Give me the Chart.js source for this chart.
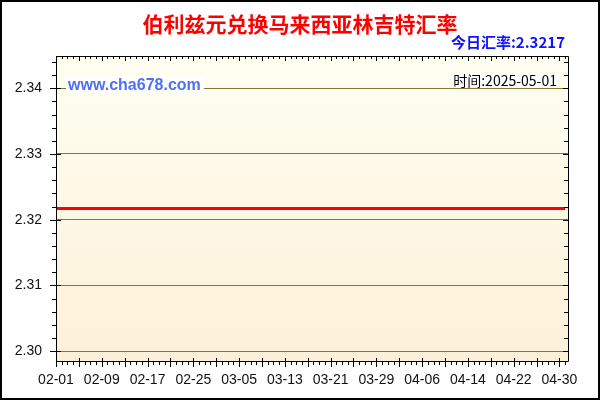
<!DOCTYPE html>
<html>
<head>
<meta charset="utf-8">
<script src="https://cdn.jsdelivr.net/npm/chart.js@4.4.1/dist/chart.umd.min.js"></script>
<style>
  html, body { margin: 0; padding: 0; background: #fff; }
  #wrap { width: 600px; height: 400px; }
</style>
</head>
<body>
<div id="wrap"><canvas id="rateChart" width="600" height="400"></canvas></div>
<script>
// заголовки и подписи
const chartTitle = "伯利兹元兑换马来西亚林吉特汇率";
const todayText = "今日汇率:2.3217";
const siteText = "www.cha678.com";
const dateText = "时间:2025-05-01";

// дни по оси X (02-01 .. 05-01)
const dayLabels = [
  "02-01","02-02","02-03","02-04","02-05","02-06","02-07","02-08","02-09","02-10",
  "02-11","02-12","02-13","02-14","02-15","02-16","02-17","02-18","02-19","02-20",
  "02-21","02-22","02-23","02-24","02-25","02-26","02-27","02-28",
  "03-01","03-02","03-03","03-04","03-05","03-06","03-07","03-08","03-09","03-10",
  "03-11","03-12","03-13","03-14","03-15","03-16","03-17","03-18","03-19","03-20",
  "03-21","03-22","03-23","03-24","03-25","03-26","03-27","03-28","03-29","03-30","03-31",
  "04-01","04-02","04-03","04-04","04-05","04-06","04-07","04-08","04-09","04-10",
  "04-11","04-12","04-13","04-14","04-15","04-16","04-17","04-18","04-19","04-20",
  "04-21","04-22","04-23","04-24","04-25","04-26","04-27","04-28","04-29","04-30",
  "05-01"
];

// курс по дням
const rates = [
  2.3217,2.3217,2.3217,2.3217,2.3217,2.3217,2.3217,2.3217,2.3217,2.3217,
  2.3217,2.3217,2.3217,2.3217,2.3217,2.3217,2.3217,2.3217,2.3217,2.3217,
  2.3217,2.3217,2.3217,2.3217,2.3217,2.3217,2.3217,2.3217,
  2.3217,2.3217,2.3217,2.3217,2.3217,2.3217,2.3217,2.3217,2.3217,2.3217,
  2.3217,2.3217,2.3217,2.3217,2.3217,2.3217,2.3217,2.3217,2.3217,2.3217,
  2.3217,2.3217,2.3217,2.3217,2.3217,2.3217,2.3217,2.3217,2.3217,2.3217,2.3217,
  2.3217,2.3217,2.3217,2.3217,2.3217,2.3217,2.3217,2.3217,2.3217,2.3217,
  2.3217,2.3217,2.3217,2.3217,2.3217,2.3217,2.3217,2.3217,2.3217,2.3217,
  2.3217,2.3217,2.3217,2.3217,2.3217,2.3217,2.3217,2.3217,2.3217,2.3217,
  2.3217
];

// подписи осей
const xTickDays = [0, 8, 16, 24, 32, 40, 48, 56, 64, 72, 80, 88];
const yTickValues = [2.30, 2.31, 2.32, 2.33, 2.34];
const yMin = 2.2985;
const yMax = 2.3449;

const points = rates.map((v, i) => ({ x: i, y: v }));

const gridColor = '#8a7436';

// фон, рамка, засечки и надписи
const decorPlugin = {
  id: 'decor',
  beforeDraw(chart) {
    const ctx = chart.ctx;
    const a = chart.chartArea;
    ctx.save();
    ctx.fillStyle = '#ffffff';
    ctx.fillRect(0, 0, chart.width, chart.height);
    let grad = ctx.createLinearGradient(0, a.top, 0, a.bottom);
    grad.addColorStop(0, '#fffff2');
    grad.addColorStop(1, '#fdf0d8');
    ctx.fillStyle = grad;
    ctx.fillRect(a.left, a.top, a.right - a.left, a.bottom - a.top);
    ctx.restore();
  },
  beforeDatasetsDraw(chart) {
    const ctx = chart.ctx;
    ctx.save();
    // www.cha678.com
    ctx.font = "bold 16px 'Liberation Sans', Arial, sans-serif";
    ctx.textBaseline = 'middle';
    ctx.textAlign = 'left';
    let w = ctx.measureText(siteText).width;
    ctx.fillStyle = '#ffffff';
    ctx.fillRect(66, 77, w + 5, 17);
    ctx.fillStyle = '#4f70f0';
    ctx.fillText(siteText, 68, 85.5);
    // время
    ctx.font = "14px 'Noto Sans CJK SC', sans-serif";
    w = ctx.measureText(dateText).width;
    ctx.fillStyle = '#ffffff';
    ctx.fillRect(557 - w - 3, 73, w + 4, 14);
    ctx.fillStyle = '#000000';
    ctx.textAlign = 'right';
    ctx.fillText(dateText, 557, 81);
    ctx.restore();
  },
  afterDraw(chart) {
    const ctx = chart.ctx;
    const a = chart.chartArea;
    const xs = chart.scales.x;
    const ys = chart.scales.y;
    ctx.save();
    ctx.strokeStyle = '#000000';
    ctx.lineWidth = 1;
    ctx.beginPath();
    // рамка области графика
    ctx.rect(Math.round(a.left) + 0.5, Math.round(a.top) + 0.5,
             Math.round(a.right - a.left), Math.round(a.bottom - a.top));
    // засечки по X: каждый день, крупные через 4 дня
    for (let d = 0; d < dayLabels.length; d++) {
      const px = Math.round(xs.getPixelForValue(d)) + 0.5;
      const major = d % 4 === 0;
      ctx.moveTo(px, a.bottom - (major ? 3 : 0));
      ctx.lineTo(px, a.bottom + (major ? 6 : 4));
      ctx.moveTo(px, a.top);
      ctx.lineTo(px, a.top + (major ? 5 : 3));
    }
    // засечки по Y: каждые 0.002, крупные на 0.01
    for (let k = 0; k <= 22; k++) {
      const v = 2.300 + k * 0.002;
      if (v > yMax) break;
      const py = Math.round(ys.getPixelForValue(v)) + 0.5;
      const major = k % 5 === 0;
      ctx.moveTo(a.left - (major ? 6 : 4), py);
      ctx.lineTo(a.left + (major ? 5 : 0), py);
      ctx.moveTo(a.right, py);
      ctx.lineTo(a.right - (major ? 5 : 4), py);
    }
    ctx.stroke();

    // заголовок
    ctx.textAlign = 'center';
    ctx.textBaseline = 'middle';
    ctx.fillStyle = '#ff0000';
    ctx.font = "bold 21px 'Noto Sans CJK SC', sans-serif";
    ctx.fillText(chartTitle, 300, 24);
    // сегодняшний курс
    ctx.textAlign = 'right';
    ctx.fillStyle = '#1010ff';
    ctx.font = "bold 15px 'Noto Sans CJK SC', sans-serif";
    ctx.fillText(todayText, 565, 42);

    // внешняя рамка
    ctx.lineWidth = 2;
    ctx.strokeRect(1, 1, chart.width - 2, chart.height - 2);
    ctx.restore();
  }
};

new Chart(document.getElementById('rateChart'), {
  type: 'line',
  data: {
    datasets: [{
      data: points,
      borderColor: '#ff0000',
      borderWidth: 3,
      pointRadius: 0,
      tension: 0,
      fill: false
    }]
  },
  options: {
    responsive: false,
    animation: false,
    devicePixelRatio: 1,
    layout: { padding: { left: 0, top: 56, right: 32, bottom: 0 } },
    plugins: {
      legend: { display: false },
      tooltip: { enabled: false },
      title: { display: false }
    },
    scales: {
      x: {
        type: 'linear',
        min: 0,
        max: 89.5,
        afterFit: (s) => { s.height = 39; },
        afterBuildTicks: (s) => { s.ticks = xTickDays.map(v => ({ value: v })); },
        grid: { display: false, drawTicks: false },
        border: { display: false },
        ticks: {
          padding: 11,
          color: '#111111',
          maxRotation: 0,
          autoSkip: false,
          font: { family: "'Liberation Sans', Arial, sans-serif", size: 14 },
          callback: (v) => dayLabels[v]
        }
      },
      y: {
        type: 'linear',
        min: yMin,
        max: yMax,
        afterFit: (s) => { s.width = 56; },
        afterBuildTicks: (s) => { s.ticks = yTickValues.map(v => ({ value: v })); },
        grid: { color: gridColor, lineWidth: 1, drawTicks: false },
        border: { display: false },
        ticks: {
          padding: 14,
          color: '#111111',
          font: { family: "'Liberation Sans', Arial, sans-serif", size: 14 },
          callback: (v) => v.toFixed(2)
        }
      }
    }
  },
  plugins: [decorPlugin]
});
</script>
</body>
</html>
